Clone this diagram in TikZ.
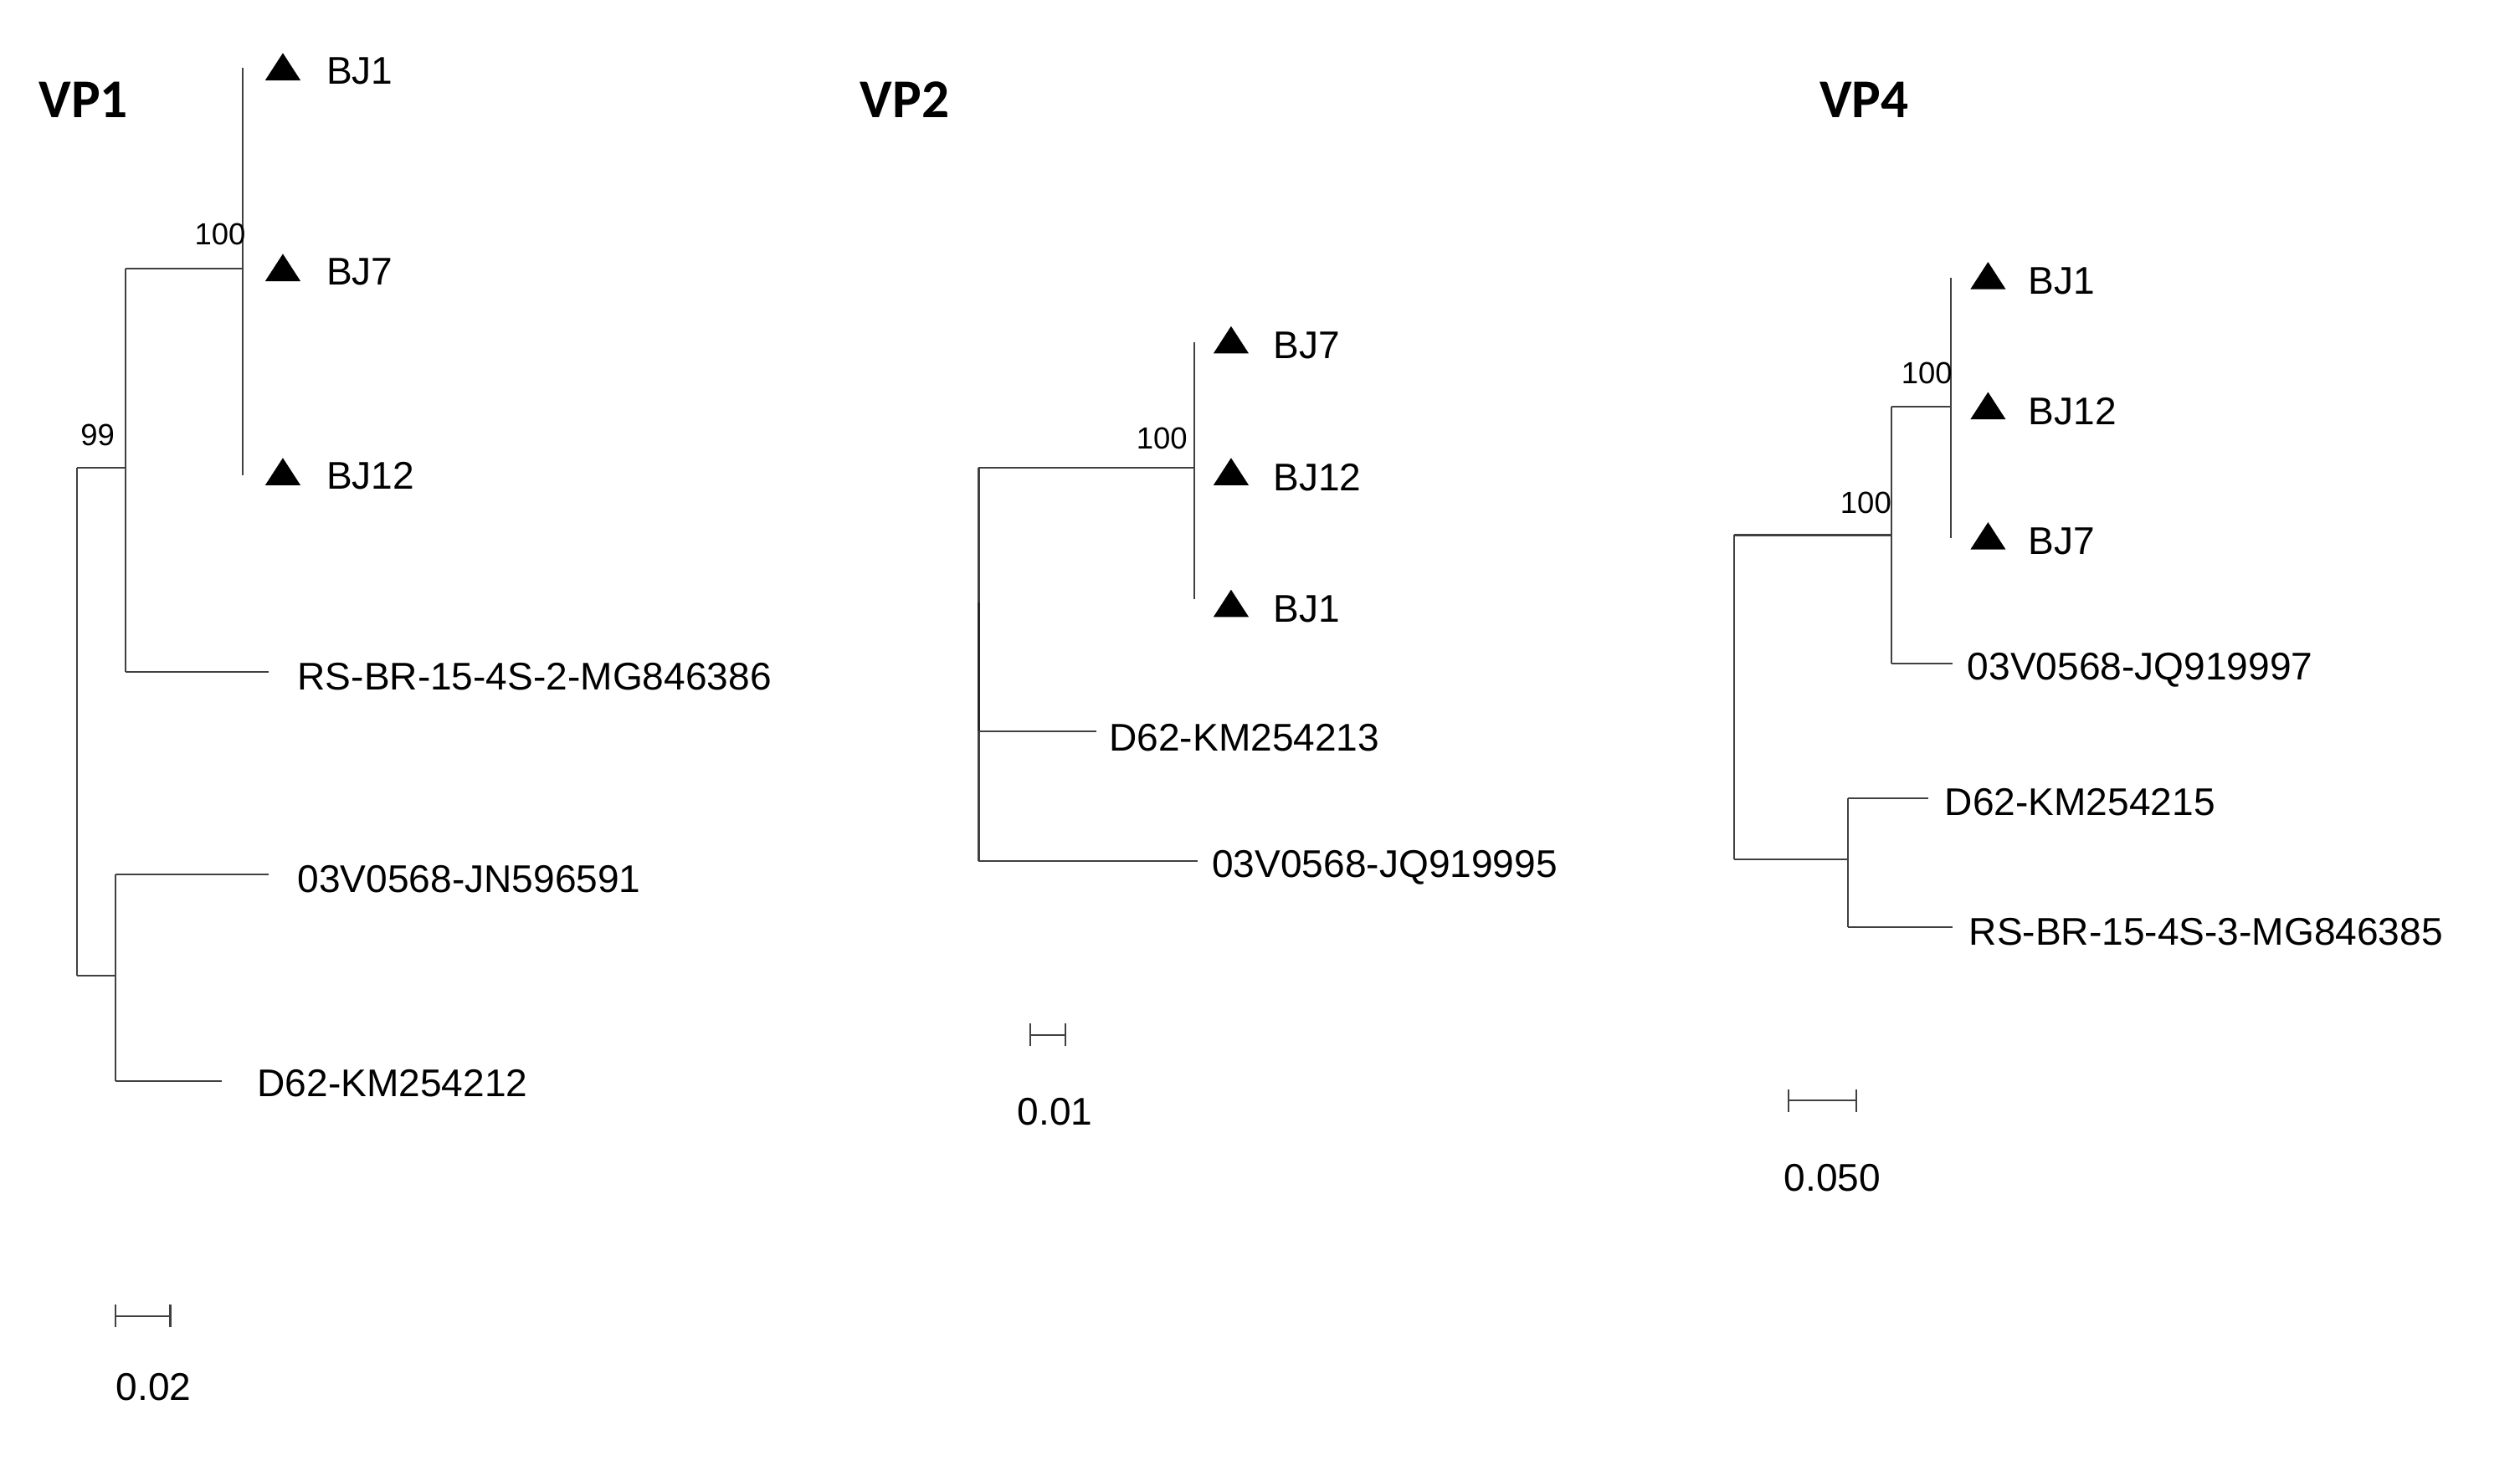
\documentclass[tikz,border=0pt]{standalone}
\usepackage{fontspec}
\setmainfont{Liberation Sans}
\newfontfamily\titlefont{Carlito}
\begin{document}
\begin{tikzpicture}[x=1pt,y=-1pt,
  br/.style={draw=black!75,line width=1.1pt},
  lab/.style={anchor=west,inner sep=0,font=\fontsize{24}{28}\selectfont},
  bs/.style={inner sep=0,font=\fontsize{19}{22}\selectfont},
  ttl/.style={anchor=west,inner sep=0,font=\titlefont\bfseries\fontsize{34}{38}\selectfont},
  tri/.style={fill=black,draw=none,regular polygon,regular polygon sides=3,minimum size=0pt}]
\useasboundingbox (0,0) rectangle (1568,912);
\newcommand{\tri}[2]{\fill (#1-11,#2+8) -- (#1+11,#2+8) -- (#1,#2-9) -- cycle;}
% VP1
\node[ttl] (t1) at (24,62) {VP1};
\coordinate (a0) at (48,291); \coordinate (a0b) at (48,607);
\draw[br] (a0) -- (a0b);
\draw[br] (a0) -- (78,291) coordinate (a1);
\draw[br] (78,167) -- (78,418);
\draw[br] (78,167) -- (151,167);
\draw[br] (151,42) -- (151,296);
\draw[br] (78,418) -- (167,418);
\draw[br] (a0b) -- (72,607);
\draw[br] (72,544) -- (72,673);
\draw[br] (72,544) -- (167,544);
\draw[br] (72,673) -- (138,673);
\tri{176}{42}\tri{176}{167}\tri{176}{294}
\node[lab] (l1) at (203,44) {BJ1};
\node[lab] (l2) at (203,169) {BJ7};
\node[lab] (l3) at (203,296) {BJ12};
\node[lab] (l4) at (185,421) {RS-BR-15-4S-2-MG846386};
\node[lab] (l5) at (185,547) {03V0568-JN596591};
\node[lab] (l6) at (160,674) {D62-KM254212};
\node[bs,anchor=east] (b1) at (153,146) {100};
\node[bs,anchor=west] (b2) at (50,271) {99};
\draw[br] (72,819) -- (106,819); \draw[br] (72,812) -- (72,826); \draw[br] (106,812) -- (106,826);
\node[lab] (s1) at (72,863) {0.02};
% VP2
\node[ttl] (t2) at (535,62) {VP2};
\draw[br] (609,291) -- (609,536);
\draw[line width=2pt,black!85] (609,375) -- (609,455);
\draw[br] (609,291) -- (743,291);
\draw[br] (743,213) -- (743,373);
\draw[br] (609,455) -- (682,455);
\draw[br] (609,536) -- (745,536);
\tri{766}{212}\tri{766}{294}\tri{766}{376}
\node[lab] (m1) at (792,215) {BJ7};
\node[lab] (m2) at (792,297) {BJ12};
\node[lab] (m3) at (792,379) {BJ1};
\node[lab] (m4) at (690,459) {D62-KM254213};
\node[lab] (m5) at (754,540) {03V0568-JQ919995};
\node[bs,anchor=east] (b3) at (739,273) {100};
\draw[br] (641,644) -- (663,644); \draw[br] (641,637) -- (641,651); \draw[br] (663,637) -- (663,651);
\node[lab] (s2) at (633,692) {0.01};
% VP4
\node[ttl] (t3) at (1132,62) {VP4};
\draw[br] (1079,333) -- (1079,535);
\draw[br] (1079,333) -- (1177,333);
\draw[br] (1177,253) -- (1177,413);
\draw[br] (1177,413) -- (1215,413);
\draw[br] (1177,253) -- (1214,253);
\draw[br] (1214,173) -- (1214,335);
\draw[br] (1079,535) -- (1150,535);
\draw[br] (1150,497) -- (1150,577);
\draw[br] (1150,497) -- (1200,497);
\draw[br] (1150,577) -- (1215,577);
\tri{1237}{172}\tri{1237}{253}\tri{1237}{334}
\node[lab] (n1) at (1262,175) {BJ1};
\node[lab] (n2) at (1262,256) {BJ12};
\node[lab] (n3) at (1262,337) {BJ7};
\node[lab] (n4) at (1224,417) {03V0568-JQ919997};
\node[lab] (n5) at (1210,499) {D62-KM254215};
\node[lab] (n6) at (1225,580) {RS-BR-15-4S-3-MG846385};
\node[bs,anchor=east] (b4) at (1215,232) {100};
\node[bs,anchor=east] (b5) at (1177,313) {100};
\draw[br] (1113,685) -- (1155,685); \draw[br] (1113,678) -- (1113,692); \draw[br] (1155,678) -- (1155,692);
\node[lab] (s3) at (1110,733) {0.050};
\end{tikzpicture}
\end{document}
